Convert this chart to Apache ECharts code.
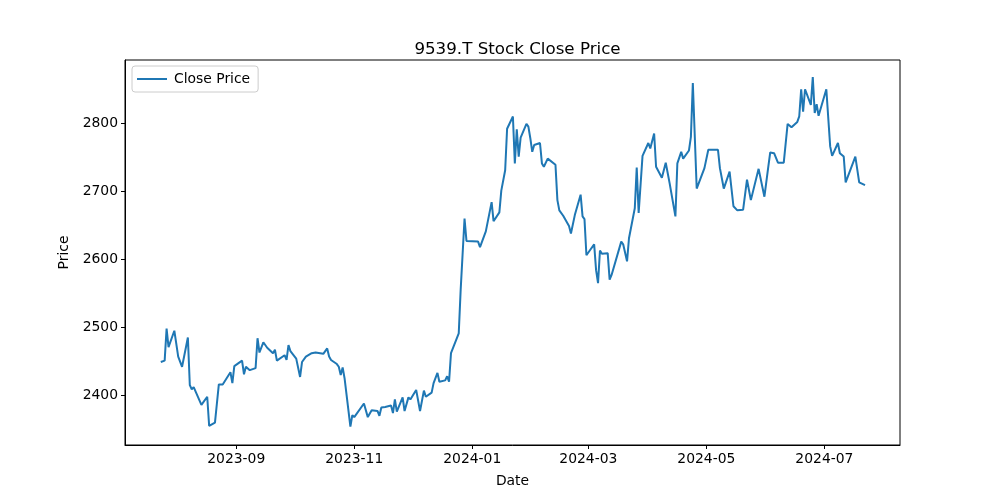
<!DOCTYPE html>
<html>
<head>
<meta charset="utf-8">
<script src="https://cdn.jsdelivr.net/npm/echarts@6/dist/echarts.min.js"></script>
<style>html,body{margin:0;padding:0;background:#fff}#c{width:1000px;height:500px}</style>
</head>
<body>
<div id="c"></div>
<script>
const dates = [
"2023-07-24","2023-07-26","2023-07-27","2023-07-28","2023-07-31","2023-08-02","2023-08-04","2023-08-07","2023-08-08","2023-08-09",
"2023-08-10","2023-08-14","2023-08-17","2023-08-18","2023-08-21","2023-08-23","2023-08-25","2023-08-29","2023-08-30","2023-08-31",
"2023-09-04","2023-09-05","2023-09-06","2023-09-08","2023-09-11","2023-09-12","2023-09-13","2023-09-15","2023-09-17","2023-09-20",
"2023-09-21","2023-09-22","2023-09-26","2023-09-27","2023-09-28","2023-09-29","2023-10-02","2023-10-04","2023-10-05","2023-10-07",
"2023-10-10","2023-10-12","2023-10-13","2023-10-16","2023-10-18","2023-10-19","2023-10-20","2023-10-23","2023-10-24","2023-10-25",
"2023-10-26","2023-10-27","2023-10-30","2023-10-31","2023-11-01","2023-11-02","2023-11-06","2023-11-07","2023-11-08","2023-11-10",
"2023-11-13","2023-11-14","2023-11-15","2023-11-17","2023-11-20","2023-11-21","2023-11-22","2023-11-23","2023-11-26","2023-11-27",
"2023-11-29","2023-11-30","2023-12-03","2023-12-05","2023-12-07","2023-12-08","2023-12-11","2023-12-12","2023-12-14","2023-12-15",
"2023-12-18","2023-12-19","2023-12-20","2023-12-21","2023-12-25","2023-12-26","2023-12-28","2023-12-29","2024-01-04","2024-01-05",
"2024-01-08","2024-01-09","2024-01-11","2024-01-12","2024-01-15","2024-01-16","2024-01-17","2024-01-18","2024-01-19","2024-01-22",
"2024-01-23","2024-01-24","2024-01-25","2024-01-26","2024-01-29","2024-01-30","2024-01-31","2024-02-01","2024-02-02","2024-02-05",
"2024-02-06","2024-02-07","2024-02-09","2024-02-13","2024-02-14","2024-02-15","2024-02-16","2024-02-17","2024-02-20","2024-02-21",
"2024-02-23","2024-02-26","2024-02-27","2024-02-28","2024-02-29","2024-03-02","2024-03-04","2024-03-05","2024-03-06","2024-03-07",
"2024-03-08","2024-03-11","2024-03-12","2024-03-13","2024-03-14","2024-03-18","2024-03-19","2024-03-21","2024-03-22","2024-03-25",
"2024-03-26","2024-03-27","2024-03-29","2024-04-01","2024-04-02","2024-04-04","2024-04-05","2024-04-08","2024-04-10","2024-04-12",
"2024-04-15","2024-04-16","2024-04-17","2024-04-18","2024-04-19","2024-04-22","2024-04-23","2024-04-24","2024-04-26","2024-04-30",
"2024-05-02","2024-05-07","2024-05-08","2024-05-10","2024-05-13","2024-05-15","2024-05-16","2024-05-17","2024-05-20","2024-05-22",
"2024-05-24","2024-05-28","2024-05-29","2024-05-31","2024-06-02","2024-06-03","2024-06-05","2024-06-07","2024-06-10","2024-06-12",
"2024-06-14","2024-06-17","2024-06-18","2024-06-19","2024-06-20","2024-06-21","2024-06-24","2024-06-25","2024-06-26","2024-06-27",
"2024-06-28","2024-07-02","2024-07-04","2024-07-05","2024-07-08","2024-07-09","2024-07-11","2024-07-12","2024-07-17","2024-07-19",
"2024-07-22"
];
const closePrice = [
2449,2451,2498,2471,2495,2457,2442,2485,2415,2409,
2412,2386,2398,2355,2360,2416,2416,2434,2418,2443,
2451,2431,2442,2437,2440,2484,2463,2478,2470,2462,
2467,2451,2459,2452,2474,2465,2454,2427,2449,2457,
2462,2463,2461,2461,2469,2457,2452,2446,2442,2430,
2441,2425,2354,2371,2368,2370,2388,2387,2368,2378,
2377,2370,2382,2383,2385,2374,2394,2376,2397,2377,
2397,2394,2408,2377,2407,2398,2404,2418,2433,2420,
2422,2428,2420,2462,2491,2555,2660,2627,2626,2618,
2641,2642,2684,2656,2669,2701,2702,2731,2792,2810,
2741,2791,2751,2779,2799,2795,2778,2758,2768,2771,
2741,2736,2748,2739,2687,2672,2672,2664,2649,2638,
2665,2695,2663,2659,2606,2614,2622,2584,2565,2613,
2608,2609,2570,2577,2578,2626,2622,2597,2631,2675,
2735,2668,2752,2771,2763,2785,2736,2720,2742,2712,
2663,2741,2742,2758,2748,2760,2780,2859,2704,2734,
2761,2761,2734,2704,2729,2678,2677,2672,2673,2717,
2687,2733,2732,2692,2736,2757,2756,2742,2742,2799,
2794,2802,2810,2850,2817,2850,2827,2868,2815,2828,
2811,2850,2766,2752,2771,2756,2751,2713,2751,2713,
2709
];
const xTicks = ["2023-09-01","2023-11-01","2024-01-01","2024-03-01","2024-05-01","2024-07-01"];
const yTicks = [2400,2500,2600,2700,2800];

const FONT = "DejaVu Sans";
const chart = echarts.init(document.getElementById('c'), null, {renderer:'canvas'});
const ts = s => new Date(s + "T00:00:00Z").getTime();
const xTickTs = xTicks.map(ts);
chart.setOption({
  animation:false,
  backgroundColor:'#fff',
  title:{text:'9539.T Stock Close Price', left:512.5, top:36, textAlign:'center',
    textStyle:{fontFamily:FONT, fontSize:16.7, fontWeight:'normal', color:'#000'}},
  legend:{show:true, left:132, top:66, orient:'vertical',
    backgroundColor:'rgba(255,255,255,0.8)', borderColor:'#cccccc', borderWidth:1, borderRadius:3,
    padding:[6,8,6,5], itemWidth:30, itemHeight:14, itemGap:5,
    textStyle:{fontFamily:FONT, fontSize:13.9, color:'#000', padding:[0,0,0,2]},
    data:[{name:'Close Price', icon:'path://M0,6 L30,6 L30,8 L0,8 Z'}]},
  grid:{left:125, right:100, top:60, bottom:55, show:true, borderColor:'#000', borderWidth:1, backgroundColor:'transparent'},
  xAxis:{type:'value', min:ts("2023-07-05")+12*3600e3, max:ts("2024-08-09")+2*3600e3,
    name:'Date', nameLocation:'middle', nameGap:29,
    nameTextStyle:{fontFamily:FONT, fontSize:13.9, color:'#000'},
    axisLine:{show:true, lineStyle:{color:'#000', width:1}},
    splitLine:{show:false},
    axisTick:{show:true, length:4, lineStyle:{color:'#000'}, customValues:xTickTs},
    axisLabel:{fontFamily:FONT, fontSize:13.9, color:'#000', margin:7, customValues:xTickTs,
      formatter:function(v){const d=new Date(v);return d.getUTCFullYear()+'-'+String(d.getUTCMonth()+1).padStart(2,'0');}}
  },
  yAxis:{type:'value', min:2327, max:2893,
    name:'Price', nameLocation:'middle', nameGap:38, nameRotate:90,
    nameTextStyle:{fontFamily:FONT, fontSize:13.9, color:'#000'},
    axisLine:{show:true, lineStyle:{color:'#000', width:1}},
    splitLine:{show:false},
    axisTick:{show:true, length:4, lineStyle:{color:'#000'}, customValues:yTicks},
    axisLabel:{fontFamily:FONT, fontSize:13.9, color:'#000', margin:7, customValues:yTicks,
      formatter:function(v){return String(v);}}
  },
  series:[{name:'Close Price', type:'line', symbol:'none', showSymbol:false,
    lineStyle:{color:'#1f77b4', width:2}, itemStyle:{color:'#1f77b4'},
    data:dates.map((d,i)=>[ts(d), closePrice[i]])}]
});
</script>
</body>
</html>
